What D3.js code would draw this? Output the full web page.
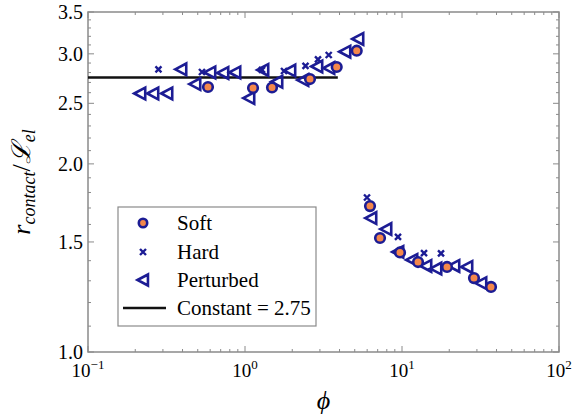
<!DOCTYPE html>
<html>
<head>
<meta charset="utf-8">
<script src="https://cdn.jsdelivr.net/npm/d3@7"></script>
<style>
  body { margin: 0; background: #fff; }
  svg { display: block; font-family: "Liberation Serif", "Times New Roman", serif; }
</style>
</head>
<body>
<div id="chart"></div>
<script>
// data (phi, r_contact / L_el)
const softPhi = [0.581, 1.125, 1.486, 2.594, 3.838, 5.147, 6.255, 7.244, 9.712, 12.65, 19.35, 28.74, 36.89];
const softR   = [2.655, 2.645, 2.650, 2.734, 2.858, 3.035, 1.712, 1.522, 1.443, 1.393, 1.368, 1.313, 1.271];

const hardPhi = [0.281, 0.532, 1.283, 1.772, 2.429, 2.917, 3.413, 5.985, 9.43, 13.81, 17.72];
const hardR   = [2.834, 2.806, 2.827, 2.816, 2.869, 2.940, 2.987, 1.767, 1.528, 1.440, 1.438];

const pertPhi = [0.2144, 0.2594, 0.3186, 0.3913, 0.4804, 0.5986, 0.7244, 0.8636, 1.0604, 1.302, 1.599, 1.934,
                 2.341, 2.874, 3.428, 4.335, 5.245,
                 6.347, 7.910, 9.43, 11.58, 14.22, 16.47, 21.44, 25.94, 31.86];
const pertR   = [2.592, 2.592, 2.592, 2.834, 2.684, 2.801, 2.796, 2.801, 2.549, 2.827, 2.707, 2.821,
                 2.724, 2.863, 2.847, 3.024, 3.169,
                 1.638, 1.573, 1.446, 1.404, 1.373, 1.360, 1.373, 1.368, 1.289];

const constValue = 2.75;
const constRange = [0.1, 3.9];

const xTicks = [0.1, 1, 10, 100];
const xTickExp = ["\u22121", "0", "1", "2"];
const yTicks = [1.0, 1.5, 2.0, 2.5, 3.0, 3.5];
const legendLabels = ["Soft", "Hard", "Perturbed", "Constant = 2.75"];

const W = 572, H = 415;
const m = {left: 88, right: 13, top: 12, bottom: 63};
const navy = "#1c1c94", orange = "#f4874b", frame = "#8a8a8a";

const svg = d3.select("#chart").append("svg")
  .attr("width", W)
  .attr("height", H);

const x = d3.scaleLog().domain([0.1, 100]).range([m.left, W - m.right]);
const y = d3.scaleLog().domain([1.0, 3.5]).range([H - m.bottom, m.top]);

// minor ticks
const xMinor = [];
for (let p = -1; p < 2; p++) {
  for (let k = 2; k <= 9; k++) xMinor.push(k * Math.pow(10, p));
}
const yMinor = d3.range(11, 35).map(v => v / 10).filter(v => Math.round(v * 10) % 5 !== 0);

const x0 = m.left, x1 = W - m.right, y0 = H - m.bottom, y1 = m.top;
const ticks = svg.append("g").attr("stroke", frame).attr("stroke-width", 1);

// bottom and top ticks (inward)
xTicks.concat(xMinor).forEach(v => {
  const len = xTicks.includes(v) ? 6 : 3;
  ticks.append("line").attr("x1", x(v)).attr("x2", x(v)).attr("y1", y0).attr("y2", y0 - len);
  ticks.append("line").attr("x1", x(v)).attr("x2", x(v)).attr("y1", y1).attr("y2", y1 + len);
});
// left and right ticks
yTicks.concat(yMinor).forEach(v => {
  const len = yTicks.includes(v) ? 6 : 3;
  ticks.append("line").attr("y1", y(v)).attr("y2", y(v)).attr("x1", x0).attr("x2", x0 + len);
  ticks.append("line").attr("y1", y(v)).attr("y2", y(v)).attr("x1", x1).attr("x2", x1 - len);
});

// frame
svg.append("rect")
  .attr("x", x0).attr("y", y1)
  .attr("width", x1 - x0).attr("height", y0 - y1)
  .attr("fill", "none")
  .attr("stroke", frame)
  .attr("stroke-width", 1.5);

// tick labels
svg.selectAll(".ylab").data(yTicks).enter().append("text")
  .attr("class", "ylab")
  .attr("x", x0 - 5)
  .attr("y", d => y(d) + 7)
  .attr("text-anchor", "end")
  .style("font-size", "20px")
  .text(d => d.toFixed(1));

const xl = svg.selectAll(".xlab").data(xTicks).enter().append("text")
  .attr("class", "xlab")
  .attr("x", d => x(d))
  .attr("y", y0 + 25)
  .attr("text-anchor", "middle")
  .style("font-size", "19px");
xl.append("tspan").text("10");
xl.append("tspan")
  .attr("dy", -8)
  .style("font-size", "13px")
  .text((d, i) => xTickExp[i]);

// axis titles
svg.append("text")
  .attr("x", (x0 + x1) / 2)
  .attr("y", 409)
  .attr("text-anchor", "middle")
  .style("font-size", "26px")
  .style("font-style", "italic")
  .text("\u03d5");

const yt = svg.append("text")
  .attr("transform", "translate(30," + ((y0 + y1) / 2) + ") rotate(-90)")
  .attr("text-anchor", "middle")
  .style("font-size", "26px")
  .style("font-style", "italic");
yt.append("tspan").text("r");
yt.append("tspan").attr("dy", 5).style("font-size", "18px").text("contact");
yt.append("tspan").attr("dy", -5).style("font-style", "normal").text("/");
yt.append("tspan").text("\u2112");
yt.append("tspan").attr("dy", 5).style("font-size", "18px").text("el");

// constant line
svg.append("line")
  .attr("x1", x(constRange[0])).attr("x2", x(constRange[1]))
  .attr("y1", y(constValue)).attr("y2", y(constValue))
  .attr("stroke", "#111")
  .attr("stroke-width", 2.5);

// markers
const tri = s => `M${-s},0 L${s * 0.9},${-s} L${s * 0.9},${s} Z`;

function drawTri(g, cx, cy, s) {
  g.append("path")
    .attr("d", tri(s))
    .attr("transform", `translate(${cx},${cy})`)
    .attr("fill", "none")
    .attr("stroke", navy)
    .attr("stroke-width", 2.6)
    .attr("stroke-linejoin", "miter");
}
function drawCross(g, cx, cy, s) {
  g.append("path")
    .attr("d", `M${-s},${-s} L${s},${s} M${-s},${s} L${s},${-s}`)
    .attr("transform", `translate(${cx},${cy})`)
    .attr("stroke", navy)
    .attr("stroke-width", 2.4);
}
function drawCirc(g, cx, cy, r) {
  g.append("circle")
    .attr("cx", cx).attr("cy", cy).attr("r", r)
    .attr("fill", orange)
    .attr("stroke", navy)
    .attr("stroke-width", 2.6);
}

const pts = svg.append("g");
pertPhi.forEach((p, i) => drawTri(pts, x(p), y(pertR[i]), 5.8));
hardPhi.forEach((p, i) => drawCross(pts, x(p), y(hardR[i]), 3));
softPhi.forEach((p, i) => drawCirc(pts, x(p), y(softR[i]), 4.8));

// legend
const lg = svg.append("g");
lg.append("rect")
  .attr("x", 118).attr("y", 207)
  .attr("width", 198).attr("height", 119)
  .attr("fill", "#fff")
  .attr("stroke", frame)
  .attr("stroke-width", 1.2);
const rowY = [223, 252, 280, 308];
drawCirc(lg, 143, rowY[0], 4.2);
drawCross(lg, 143, rowY[1], 3);
drawTri(lg, 143, rowY[2], 5.5);
lg.append("line")
  .attr("x1", 123).attr("x2", 166)
  .attr("y1", rowY[3]).attr("y2", rowY[3])
  .attr("stroke", "#111").attr("stroke-width", 2.5);
lg.selectAll("text").data(legendLabels).enter().append("text")
  .attr("x", 177)
  .attr("y", (d, i) => rowY[i] + 7)
  .style("font-size", "21px")
  .text(d => d);
</script>
</body>
</html>
